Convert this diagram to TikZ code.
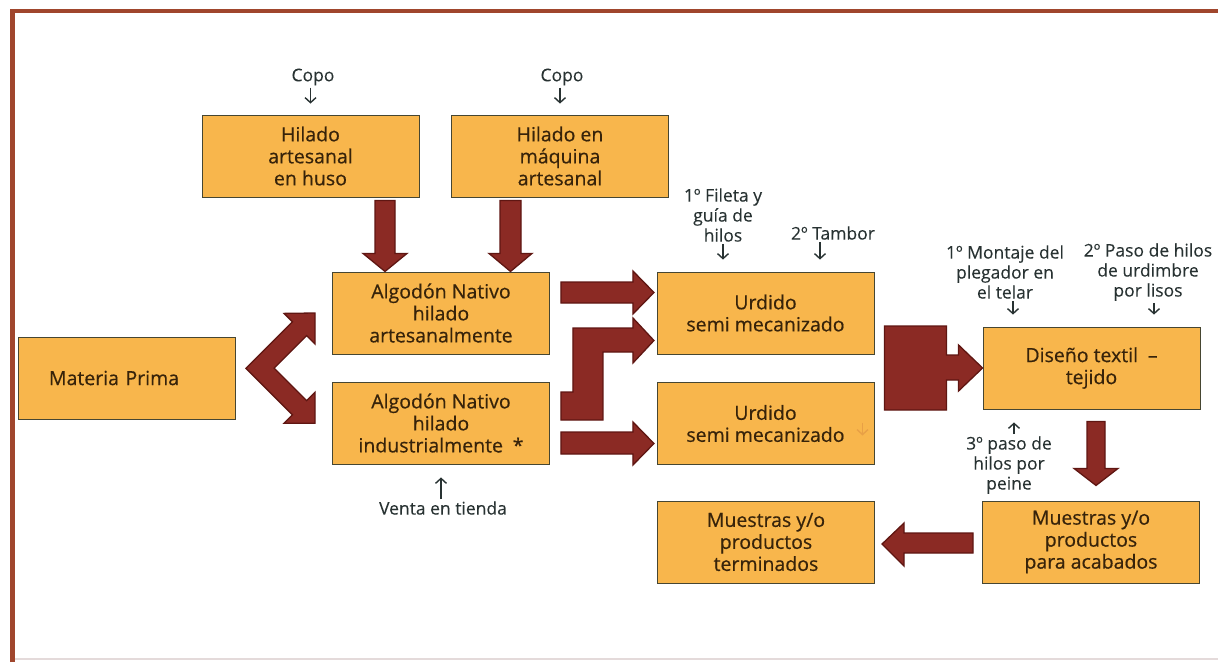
\documentclass[tikz,border=0pt]{standalone}
\usepackage{fontspec}
\setmainfont{Open Sans}
\newfontfamily\boxfont[FakeBold=0.5]{Open Sans}
\newfontfamily\notefont[FakeBold=0.15]{Open Sans}
\usetikzlibrary{arrows.meta,calc,positioning}
\definecolor{boxfill}{RGB}{248,182,76}
\definecolor{boxline}{RGB}{70,70,50}
\definecolor{boxtext}{RGB}{55,35,10}
\definecolor{notetext}{RGB}{40,50,50}
\definecolor{arrowred}{RGB}{139,42,36}
\definecolor{arrowdark}{RGB}{95,22,18}
\definecolor{framebrown}{RGB}{160,70,45}
\definecolor{faintline}{RGB}{228,218,218}
\definecolor{faintarrow}{RGB}{232,160,70}
\tikzset{
	box/.style={rectangle,draw=boxline,fill=boxfill,line width=0.9pt,minimum width=217pt,
		minimum height=82pt,align=center,text=boxtext,font=\boxfont\fontsize{19.5}{22}\selectfont},
	note/.style={align=center,text=notetext,inner sep=2pt,font=\notefont\fontsize{17.5}{20}\selectfont},
	fat/.style={fill=arrowred,draw=arrowdark,line width=1.3pt,line join=miter},
	notearrow/.style={draw=notetext,line width=1.4pt,-{Straight Barb[length=5pt,width=11pt]}}
}

\begin{document}
\begin{tikzpicture}[x=1pt,y=-1pt]
	\useasboundingbox (0,0) rectangle (1218,662);
	% frame
	\draw[framebrown,line width=4.5pt] (12.5,662) -- (12.5,11) -- (1230,11);
	\draw[faintline,line width=1.5pt] (15,659) -- (1218,659);

	% boxes
	\node[box] (huso) at (310.5,156) {Hilado\\artesanal\\en huso};
	\node[box] (maquina) at (560,156) {Hilado en\\máquina\\artesanal};
	\node[box] (algA) at (441,313) {Algodón Nativo\\hilado\\artesanalmente};
	\node[box] (algI) at (441,423) {Algodón Nativo\\hilado\\industrialmente\enspace*};
	\node[box] (urdA) at (765.5,313) {Urdido\\semi mecanizado};
	\node[box] (urdB) at (765.5,423.5) {Urdido\\semi mecanizado};
	\node[box] (disenio) at (1091.5,368) {Diseño textil\enspace–\\tejido};
	\node[box] (acab) at (1091,542) {Muestras y/o\\productos\\para acabados};
	\node[box] (term) at (766,542) {Muestras y/o\\productos\\terminados};
	\node[box,align=left,text width=155pt,inner xsep=31pt] (materia) at (126.5,378) {Materia Prima};

	% notes
	\node[note] (copoA) at (313,77) {Copo};
	\node[note] (copoB) at (562,77) {Copo};
	\node[note] (fileta) at (723,215) {1º Fileta y\\guía de\\hilos};
	\node[note] (tambor) at (833,233) {2º Tambor};
	\node[note] (montaje) at (1005,272) {1º Montaje del\\plegador en\\el telar};
	\node[note] (paso) at (1148,272) {2º Paso de hilos\\de urdimbre\\por lisos};
	\node[note] (peine) at (1009,465) {3º paso de\\hilos por\\peine};
	\node[note] (venta) at (443,508) {Venta en tienda};

	\draw[notearrow] (copoA.south -| huso.north) -- ([yshift=11pt]huso.north);
	\draw[notearrow] (copoB.south -| maquina.north) -- ([yshift=11pt]maquina.north);
	\draw[notearrow] (fileta.south) -- ($(fileta.south |- urdA.north)+(0,-12)$);
	\draw[notearrow] ($(tambor.south)+(-13,0)$) -- ($(tambor.south |- urdA.north)+(-13,-12)$);
	\draw[notearrow] ($(montaje.south)+(8,0)$) -- ($(montaje.south |- disenio.north)+(8,-12)$);
	\draw[notearrow] ($(paso.south)+(6,0)$) -- ($(paso.south |- disenio.north)+(6,-12)$);
	\draw[notearrow] ($(peine.north)+(5,0)$) -- ($(peine.north |- disenio.south)+(5,13)$);
	\draw[notearrow] (venta.north -| algI.south) -- ($(algI.south)+(0,13)$);
	\draw[notearrow,draw=faintarrow] ($(urdB.center)+(97,-1)$) -- ++(0,13);

	% fat arrows
	\draw[fat] ($(huso.south)+(64.5,3)$) -- ++(20,0) -- ++(0,53) -- ++(12,0) -- ++(-22,18) -- ++(-22,-18) -- ++(12,0) -- cycle;
	\draw[fat] ($(maquina.south)+(-60,3)$) -- ++(21,0) -- ++(0,53) -- ++(11,0) -- ++(-21.5,18) -- ++(-21.5,-18) -- ++(11,0) -- cycle;
	\draw[fat] (algA.west) ++(-17,0) -- ++(0,31) -- ++(-8.4,-8.4) -- ++(-32.5,32.5) -- ++(32.5,32.5) -- ++(8.4,-8.4)
		-- ++(0,31) -- ++(-31,0) -- ++(8.4,-8.4) -- ++(-46.5,-46.5) -- ++(46.5,-46.5) -- ++(-8.4,-8.4) -- cycle;
	\draw[fat] ($(algA.east)+(11,-31)$) -- ++(72,0) -- ++(0,-11) -- ++(21,21.5) -- ++(-21,21.5) -- ++(0,-11) -- ++(-72,0) -- cycle;
	\draw[fat] ($(algI.east)+(11,-3)$) -- ++(42,0) -- ++(0,-68) -- ++(30,0) -- ++(0,11) -- ++(21,-22.5) -- ++(-21,-22.5)
		-- ++(0,10) -- ++(-60,0) -- ++(0,64) -- ++(-12,0) -- cycle;
	\draw[fat] ($(algI.east)+(11,9)$) -- ++(72,0) -- ++(0,-10) -- ++(21,21.5) -- ++(-21,21.5) -- ++(0,-11) -- ++(-72,0) -- cycle;
	\draw[fat] (disenio.west) -- ++(-24,-23) -- ++(0,10) -- ++(-12,0) -- ++(0,-29) -- ++(-62,0) -- ++(0,84) -- ++(62,0)
		-- ++(0,-30) -- ++(12,0) -- ++(0,11) -- cycle;
	\draw[fat] ($(disenio.south)+(-4.5,12)$) -- ++(18,0) -- ++(0,47) -- ++(13,0) -- ++(-22,17) -- ++(-22,-17) -- ++(13,0) -- cycle;
	\draw[fat] ($(acab.west)+(-9,-9)$) -- ++(-69,0) -- ++(0,-10) -- ++(-22,21) -- ++(22,22) -- ++(0,-13) -- ++(69,0) -- cycle;
\end{tikzpicture}
\end{document}
